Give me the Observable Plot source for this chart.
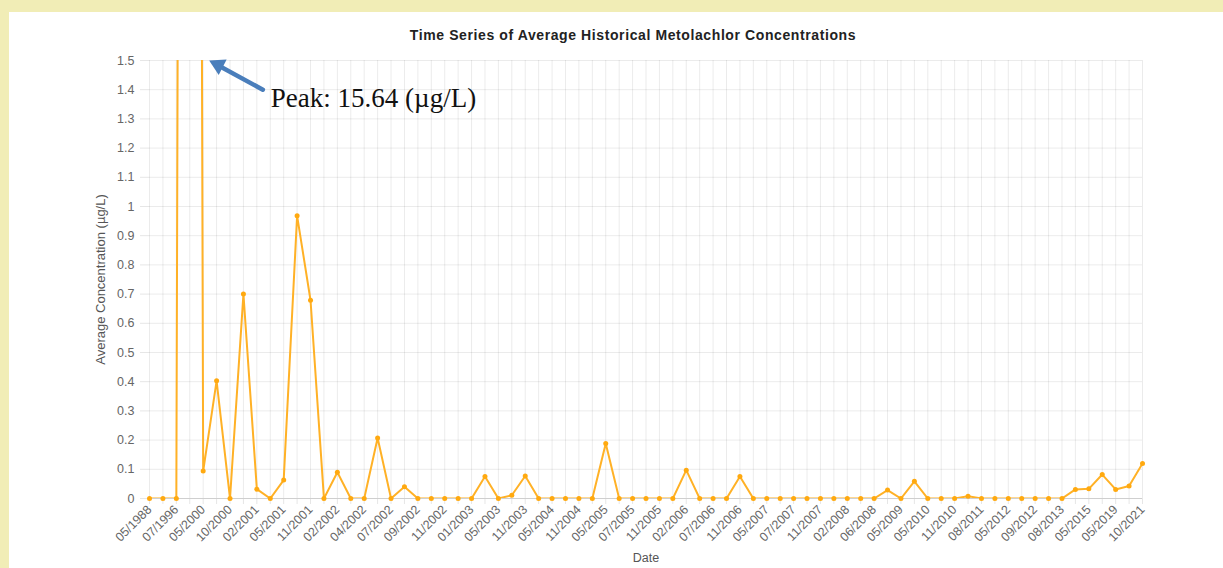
<!DOCTYPE html>
<html>
<head>
<meta charset="utf-8">
<script src="https://cdn.jsdelivr.net/npm/d3@7"></script>
<script src="https://cdn.jsdelivr.net/npm/@observablehq/plot@0.6"></script>
<style>
  html, body { margin: 0; padding: 0; width: 1223px; height: 568px; overflow: hidden; background: #f1edb6; }
  #panel { position: absolute; left: 9px; top: 12px; right: 0; bottom: 0; background: #ffffff; }
  #title { position: absolute; top: 27px; left: 633px; transform: translateX(-50%); white-space: nowrap;
           font: bold 14px "Liberation Sans", Arial, sans-serif; letter-spacing: 0.6px; color: #222; line-height: 16px; }
  #chart { position: absolute; left: 0; top: 45px; }
</style>
</head>
<body>
<div id="panel"></div>
<div id="title">Time Series of Average Historical Metolachlor Concentrations</div>
<div id="chart"></div>
<script>
const dates = [
  "05/1988","06/1992","07/1996","06/1999","05/2000","07/2000","10/2000","12/2000","02/2001","04/2001",
  "05/2001","08/2001","11/2001","01/2002","02/2002","03/2002","04/2002","06/2002","07/2002","08/2002",
  "09/2002","10/2002","11/2002","12/2002","01/2003","03/2003","05/2003","08/2003","11/2003","02/2004",
  "05/2004","08/2004","11/2004","02/2005","05/2005","06/2005","07/2005","09/2005","11/2005","12/2005",
  "02/2006","05/2006","07/2006","09/2006","11/2006","02/2007","05/2007","06/2007","07/2007","09/2007",
  "11/2007","12/2007","02/2008","04/2008","06/2008","11/2008","05/2009","11/2009","05/2010","08/2010",
  "11/2010","05/2011","08/2011","11/2011","05/2012","07/2012","09/2012","05/2013","08/2013","05/2014",
  "05/2015","05/2017","05/2019","05/2020","10/2021"
];
const concentrations = [
  0, 0, 0, 15.64, 0.094, 0.403, 0, 0.70, 0.032, 0,
  0.063, 0.968, 0.679, 0, 0.09, 0, 0, 0.207, 0, 0.04,
  0, 0, 0, 0, 0, 0.075, 0, 0.011, 0.077, 0,
  0, 0, 0, 0, 0.188, 0, 0, 0, 0, 0,
  0.097, 0, 0, 0, 0.075, 0, 0, 0, 0, 0,
  0, 0, 0, 0, 0, 0.029, 0, 0.059, 0, 0,
  0, 0.008, 0, 0, 0, 0, 0, 0, 0, 0.031,
  0.033, 0.082, 0.031, 0.043, 0.12
];
const yTicks = [0, 0.1, 0.2, 0.3, 0.4, 0.5, 0.6, 0.7, 0.8, 0.9, 1, 1.1, 1.2, 1.3, 1.4, 1.5];
const yMax = 1.5;
const yLabel = "Average Concentration (µg/L)";
const xLabel = "Date";
const peakText = "Peak: 15.64 (µg/L)";
const arrowFrom = ["02/2001", 1.4];
const arrowTo = ["05/2000", 1.5];

const data = dates.map((d, i) => ({date: d, value: concentrations[i]}));
const dateIndex = new Map(dates.map((d, i) => [d, i]));
const arrowData = [{x1: arrowFrom[0], y1: arrowFrom[1], x2: arrowTo[0], y2: arrowTo[1]}];
const arrowColor = "#4a7ebb";

const chart = Plot.plot({
  width: 1223,
  height: 523,
  marginLeft: 149,
  marginRight: 81,
  marginTop: 15,
  marginBottom: 70,
  style: {fontFamily: "'Liberation Sans', Arial, sans-serif", fontSize: "12.5px", color: "#666", background: "transparent"},
  x: {type: "point", domain: dates, padding: 0},
  y: {domain: [0, yMax]},
  marks: [
    Plot.gridX({ticks: dates, stroke: "#000", strokeOpacity: 0.08}),
    Plot.gridY(yTicks, {stroke: "#000", strokeOpacity: 0.08}),
    Plot.axisY({ticks: yTicks, tickFormat: d3.format("~g"), tickSize: 9, tickPadding: 6, stroke: "#e6e6e6", label: null}),
    Plot.axisX({ticks: dates, tickFormat: d => (dateIndex.get(d) % 2 ? "" : d), tickRotate: -45,
                tickSize: 6, tickPadding: 3, stroke: "#e6e6e6", label: null}),
    Plot.ruleY([0], {stroke: "#cfcfcf"}),
    Plot.line(data, {x: "date", y: "value", stroke: "#ffb126", strokeWidth: 2, clip: true}),
    Plot.dot(data, {filter: d => d.value <= yMax, x: "date", y: "value", r: 2.5, fill: "#ffa90f"}),
    Plot.arrow(arrowData, {x1: "x1", y1: "y1", x2: "x2", y2: "y2", stroke: arrowColor, strokeWidth: 4.5,
      headLength: 0, insetEnd: 11, dx: 6}),
    Plot.dot(arrowData, {x: "x2", y: "y2", symbol: "triangle", r: 6.5, fill: arrowColor, rotate: -63, dx: 15, dy: 4.5}),
    Plot.text([peakText], {x: () => arrowFrom[0], y: () => arrowFrom[1], dx: 14, dy: 9, textAnchor: "start",
      fontFamily: "'Liberation Serif', 'Times New Roman', serif", fontSize: 27, fill: "#111"}),
    Plot.text([yLabel], {frameAnchor: "left", textAnchor: "middle", rotate: -90, dx: -49, fontSize: 13, fill: "#555"}),
    Plot.text([xLabel], {frameAnchor: "bottom", dy: 63, fontSize: 12.5, fill: "#555"})
  ]
});
document.getElementById("chart").appendChild(chart);
</script>
</body>
</html>
